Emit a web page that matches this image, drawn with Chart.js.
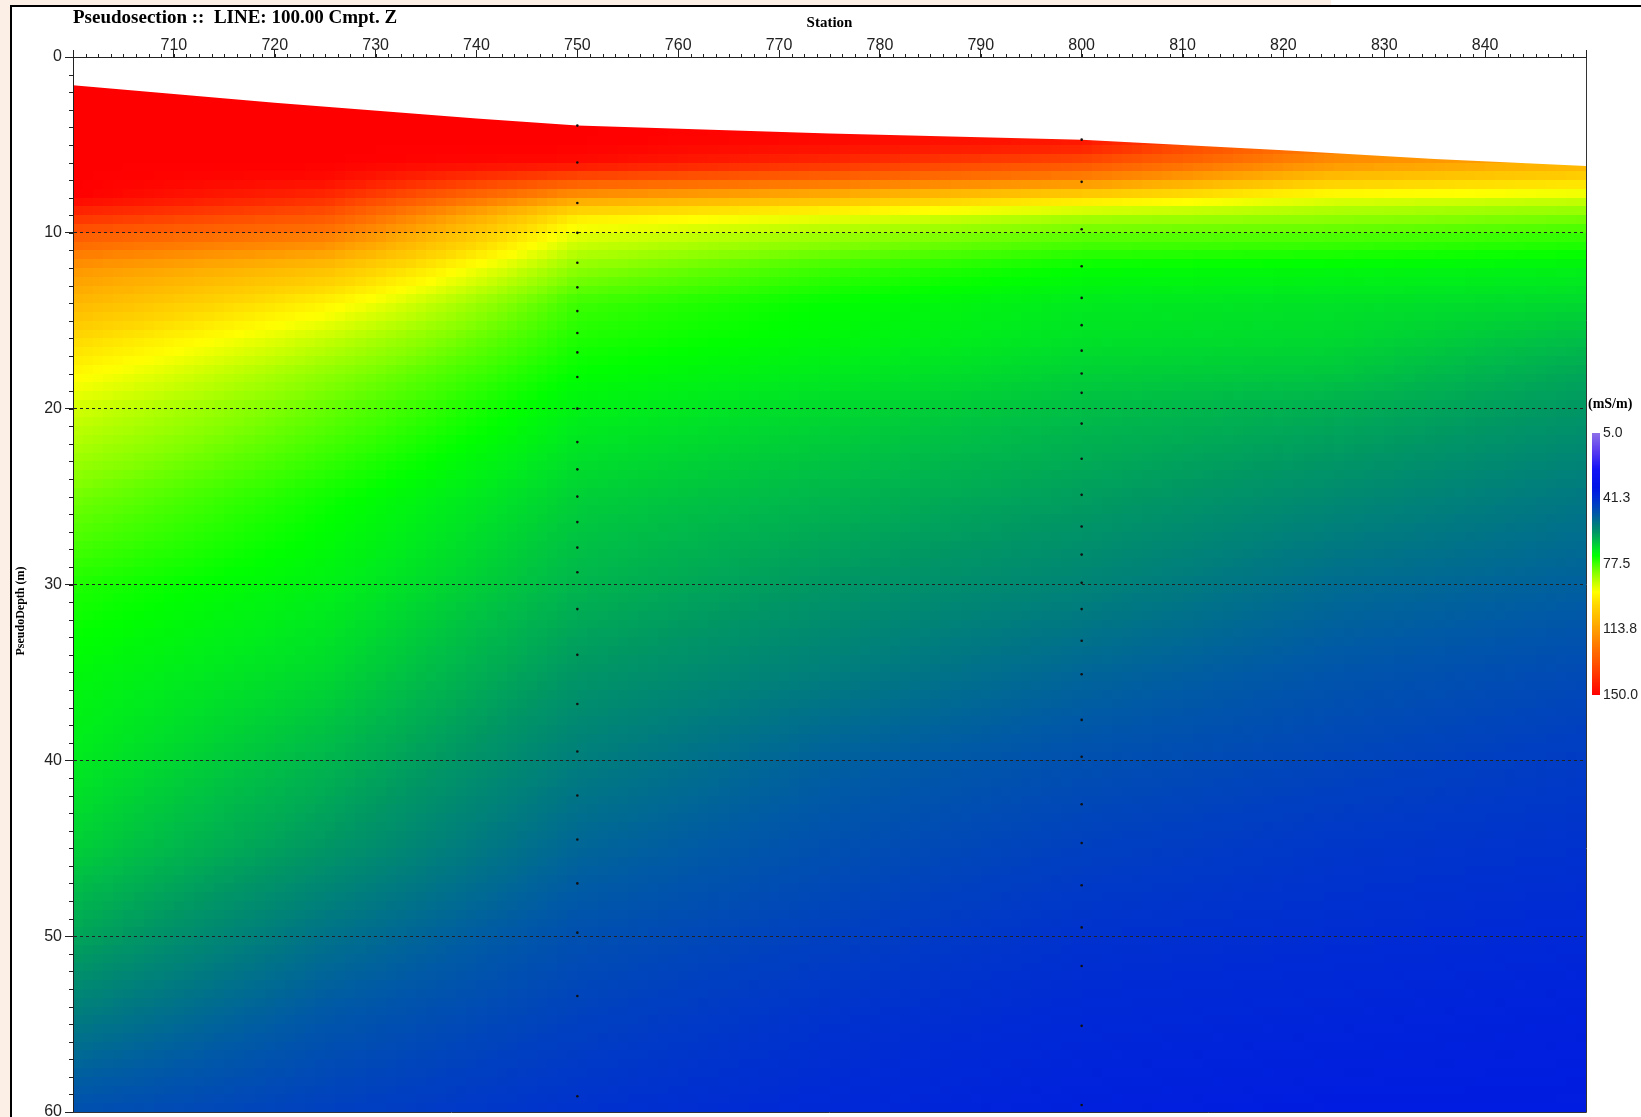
<!DOCTYPE html>
<html>
<head>
<meta charset="utf-8">
<script src="https://cdn.jsdelivr.net/npm/chart.js@4.4.1/dist/chart.umd.min.js"></script>
<style>
html,body{margin:0;padding:0;background:#fff;}
canvas{display:block;}
</style>
</head>
<body>
<canvas id="myChart" width="1641" height="1117"></canvas>
<script>
// station columns and pseudo-depth rows of the conductivity grid
let stations = [700, 725, 750, 775, 800, 825, 850];
let depthRows = [0, 3, 5, 6, 7, 8, 9, 10, 12, 14, 16, 18, 20, 25, 30, 35, 40, 45, 50, 55, 60];
// apparent conductivity (mS/m), one value per depth row
let cond700 = [150,150,150,150,150,150,141,131,116,108,100,94,89,81,75,72,70,67,62,55,48];
let cond725 = [150,150,150,150,148,141,132,123,106,95,88,83,80,74,71,68,64,60,54,49,45];
let cond750 = [150,150,150,148,132,114,97,91,83,77,75,73,71,67,64,60,56,52,48,45,42];
let cond775 = [150,150,148,141,126,107,92,85,77,73,72,70,68,64,60,56,51,48,45,42,40];
let cond800 = [150,148,145,133,119,99,86,80,73,70,69,67,65,61,57,52,48,45,42,40,38];
let cond825 = [140,130,122,117,104,91,84,79,72,69,68,66,63,58,53,49,46,43,41,39,37];
let cond850 = [130,120,115,110,100,89,82,77,71,68,65,62,60,55,51,47,44,42,40,38,37];
let columns = [cond700, cond725, cond750, cond775, cond800, cond825, cond850];

// top of the section
let surfaceX = [700, 720, 740, 750, 775, 800, 820, 835, 850];
let surfaceDepth = [1.6, 2.6, 3.5, 3.9, 4.35, 4.7, 5.3, 5.8, 6.2];

// measurement points
let points750 = [3.9,6.0,8.3,10.0,11.7,13.1,14.45,15.7,16.8,18.2,20.0,21.9,23.45,25.0,26.45,27.9,29.3,31.4,34.0,36.8,39.5,42.0,44.5,47.0,49.8,53.4,59.1];
let points800 = [4.7,7.1,9.8,11.9,13.7,15.25,16.7,18.0,19.1,20.85,22.85,24.9,26.7,28.3,29.9,31.4,33.2,35.1,37.7,39.8,42.5,44.7,47.1,49.5,51.7,55.1,59.6];

// colour scale
let scaleValues = [5,15,25,35,40,45,50,55,60,65,70,73,77,82,88,93,100,110,118,125,133,140,147,150];
let scaleColors = ['#8c70e8','#5a3cf0','#1414f5','#0014e6','#0028d7','#0040c0','#005aa5','#007882','#009664','#00be46','#00eb1e','#00ff00','#3cff00','#82ff00','#c8ff00','#ffff00','#ffd700','#ffaf00','#ff8c00','#ff6e00','#ff5000','#ff3000','#ff1000','#ff0000'];
let scaleLabels = ['5.0','41.3','77.5','113.8','150.0'];

let rgbStops = scaleColors.map(h => [parseInt(h.substr(1,2),16), parseInt(h.substr(3,2),16), parseInt(h.substr(5,2),16)]);

function colorFor(v){
  let n = scaleValues.length;
  if (v <= scaleValues[0]) return 'rgb(' + rgbStops[0].join(',') + ')';
  for (let i = 1; i < n; i++) {
    if (v <= scaleValues[i]) {
      let t = (v - scaleValues[i-1]) / (scaleValues[i] - scaleValues[i-1]);
      let a = rgbStops[i-1], b = rgbStops[i];
      return 'rgb(' + Math.round(a[0]+(b[0]-a[0])*t) + ',' + Math.round(a[1]+(b[1]-a[1])*t) + ',' + Math.round(a[2]+(b[2]-a[2])*t) + ')';
    }
  }
  return 'rgb(' + rgbStops[n-1].join(',') + ')';
}

function colValue(col, d){
  if (d <= depthRows[0]) return col[0];
  for (let i = 1; i < depthRows.length; i++) {
    if (d <= depthRows[i]) {
      let t = (d - depthRows[i-1]) / (depthRows[i] - depthRows[i-1]);
      return col[i-1] + (col[i] - col[i-1]) * t;
    }
  }
  return col[col.length-1];
}

function valueAt(x, d){
  let j = 0;
  while (j < stations.length - 2 && x > stations[j+1]) j++;
  let t = (x - stations[j]) / (stations[j+1] - stations[j]);
  return colValue(columns[j], d) * (1 - t) + colValue(columns[j+1], d) * t;
}

const sectionPlugin = {
  id: 'section',
  beforeDraw(chart) {
    const c = chart.ctx, xs = chart.scales.x, ys = chart.scales.y, a = chart.chartArea;
    c.save();
    c.fillStyle = '#fff';
    c.fillRect(0, 0, chart.width, chart.height);
    c.fillStyle = '#fcefe6';
    c.fillRect(0, 0, 1331, 6);
    c.fillRect(0, 0, 11, chart.height);
    c.fillStyle = '#000';
    c.fillRect(10, 5, chart.width - 10, 2);
    c.fillRect(10, 5, 2, chart.height - 5);

    // clip under the surface line
    c.beginPath();
    c.moveTo(xs.getPixelForValue(surfaceX[0]), ys.getPixelForValue(surfaceDepth[0]));
    for (let i = 1; i < surfaceX.length; i++) {
      c.lineTo(xs.getPixelForValue(surfaceX[i]), ys.getPixelForValue(surfaceDepth[i]));
    }
    c.lineTo(a.right, a.bottom);
    c.lineTo(a.left, a.bottom);
    c.closePath();
    c.clip();

    const dx = 1, dd = 0.5;
    for (let x = xs.min; x < xs.max; x += dx) {
      const x0 = Math.round(xs.getPixelForValue(x)), x1 = Math.round(xs.getPixelForValue(x + dx));
      for (let d = ys.min; d < ys.max; d += dd) {
        const y0 = Math.round(ys.getPixelForValue(d)), y1 = Math.round(ys.getPixelForValue(d + dd));
        c.fillStyle = colorFor(valueAt(x + dx/2, d + dd/2));
        c.fillRect(x0, y0, x1 - x0, y1 - y0);
      }
    }
    c.restore();
  },
  afterDraw(chart) {
    const c = chart.ctx, xs = chart.scales.x, ys = chart.scales.y, a = chart.chartArea;
    c.save();
    // frame right / bottom
    c.strokeStyle = '#333';
    c.lineWidth = 1;
    c.beginPath();
    c.moveTo(a.right + 0.5, a.top);
    c.lineTo(a.right + 0.5, a.bottom + 0.5);
    c.lineTo(a.left, a.bottom + 0.5);
    c.stroke();

    // minor ticks
    c.strokeStyle = '#222';
    c.beginPath();
    for (let v = xs.min; v <= xs.max + 0.01; v += 1.25) {
      const p = Math.round(xs.getPixelForValue(v)) + 0.5;
      c.moveTo(p, a.top - 3);
      c.lineTo(p, a.top + 1);
    }
    for (let v = ys.min; v <= ys.max; v += 1) {
      const p = Math.round(ys.getPixelForValue(v)) + 0.5;
      c.moveTo(a.left - 4, p);
      c.lineTo(a.left, p);
    }
    c.stroke();

    // main title
    c.fillStyle = '#000';
    c.font = 'bold 19px "Liberation Serif", serif';
    c.textAlign = 'left';
    c.textBaseline = 'middle';
    c.fillText('Pseudosection ::  LINE: 100.00 Cmpt. Z', a.left, 18);

    // depth axis title
    c.save();
    c.translate(21, 611);
    c.rotate(-Math.PI / 2);
    c.textAlign = 'center';
    c.font = 'bold 12px "Liberation Serif", serif';
    c.fillText('PseudoDepth (m)', 0, 0);
    c.restore();

    // colour bar
    const bx = a.right + 6, bw = 8, top = 433, bottom = 695;
    const g = c.createLinearGradient(0, top, 0, bottom);
    const lo = scaleValues[0], hi = scaleValues[scaleValues.length - 1];
    for (let i = 0; i < scaleValues.length; i++) {
      g.addColorStop((scaleValues[i] - lo) / (hi - lo), scaleColors[i]);
    }
    c.fillStyle = g;
    c.fillRect(bx, top, bw, bottom - top);

    c.fillStyle = '#000';
    c.font = 'bold 14px "Liberation Serif", serif';
    c.fillText('(mS/m)', a.right + 2, 404);
    c.fillStyle = '#222';
    c.font = '14px "Liberation Sans", sans-serif';
    for (let i = 0; i < scaleLabels.length; i++) {
      c.fillText(scaleLabels[i], bx + bw + 3, top + i * (bottom - top) / (scaleLabels.length - 1));
    }
    c.restore();
  }
};

const tickFont = {family: 'Liberation Sans', size: 16};

let myChart = document.getElementById('myChart').getContext('2d');
let chart = new Chart(myChart, {
  type: 'scatter',
  data: {
    datasets: [
      {
        label: '750',
        data: points750.map(d => ({x: 750, y: d})),
        pointRadius: 1.3,
        pointBorderWidth: 0,
        pointBackgroundColor: '#111'
      },
      {
        label: '800',
        data: points800.map(d => ({x: 800, y: d})),
        pointRadius: 1.3,
        pointBorderWidth: 0,
        pointBackgroundColor: '#111'
      }
    ]
  },
  options: {
    responsive: false,
    animation: false,
    devicePixelRatio: 1,
    layout: {padding: {top: 6, left: 12, right: 55, bottom: 5}},
    plugins: {
      legend: {display: false},
      tooltip: {enabled: false}
    },
    scales: {
      x: {
        type: 'linear',
        position: 'top',
        min: 700,
        max: 850,
        afterFit: s => { s.height = 51; s.paddingLeft = 0; s.paddingRight = 0; },
        ticks: {
          stepSize: 10,
          autoSkip: false,
          maxRotation: 0,
          padding: -5,
          color: '#222',
          font: tickFont,
          callback: v => (v > 700 && v < 850) ? v : ''
        },
        grid: {drawOnChartArea: false, tickLength: 7, tickColor: '#222'},
        border: {color: '#222', width: 1},
        title: {
          display: true,
          text: 'Station',
          color: '#000',
          font: {family: 'Liberation Serif', size: 15, weight: 'bold'},
          padding: {top: 8, bottom: 0}
        }
      },
      y: {
        type: 'linear',
        reverse: true,
        min: 0,
        max: 60,
        afterFit: s => { s.width = 61; s.paddingTop = 0; s.paddingBottom = 0; },
        ticks: {stepSize: 10, padding: 3, color: '#222', font: tickFont},
        grid: {
          tickLength: 8,
          tickColor: '#222',
          color: c => (c.tick && c.tick.value > 0 && c.tick.value < 60) ? '#222' : 'rgba(0,0,0,0)'
        },
        border: {color: '#222', width: 1, dash: [3, 3]}
      }
    }
  },
  plugins: [sectionPlugin]
});
</script>
</body>
</html>
